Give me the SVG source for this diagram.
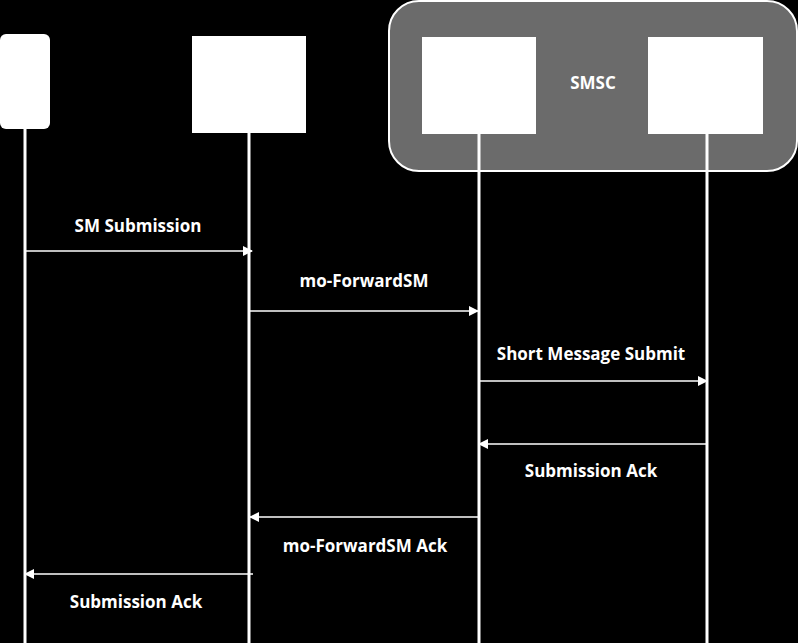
<svg xmlns="http://www.w3.org/2000/svg" width="798" height="643" viewBox="0 0 798 643">
<defs>
<marker id="ah" markerWidth="10" markerHeight="10" refX="9" refY="5" orient="auto" markerUnits="userSpaceOnUse"><path d="M0,0 L10,5 L0,10 z" fill="#fff"/></marker>
<style>
.box{fill:#fff}
.life{stroke:#fff;stroke-width:3}
.msg{stroke:#fff;stroke-width:1.3;fill:none;marker-end:url(#ah)}
.lbl{fill:#fff;font-family:"Open Sans","Liberation Sans",sans-serif;font-weight:bold;font-size:17px;text-anchor:middle}
</style>
</defs>
<rect width="798" height="643" fill="#000"/>
<g id="smsc"><rect x="389" y="1" width="408" height="170" rx="30" fill="#6b6b6b" stroke="#fff" stroke-width="2"/><text class="lbl" x="593" y="89">SMSC</text></g>
<g id="lifelines">
<line class="life" x1="25" y1="129" x2="25" y2="643"/>
<line class="life" x1="249" y1="133" x2="249" y2="643"/>
<line class="life" x1="479" y1="134" x2="479" y2="643"/>
<line class="life" x1="707" y1="134" x2="707" y2="643"/>
</g>
<g id="n1"><rect class="box" x="0" y="34" width="50" height="95" rx="6"/></g>
<g id="n2"><rect class="box" x="192" y="36" width="114" height="97"/></g>
<g id="n3"><rect class="box" x="422" y="37" width="114" height="97"/></g>
<g id="n4"><rect class="box" x="648" y="37" width="115" height="97"/></g>
<g id="connectors">
<line class="msg" x1="25" y1="251" x2="252" y2="251"/>
<line class="msg" x1="249" y1="311" x2="478" y2="311"/>
<line class="msg" x1="479" y1="381" x2="707" y2="381"/>
<line class="msg" x1="707" y1="444" x2="479" y2="444"/>
<line class="msg" x1="479" y1="517" x2="250" y2="517"/>
<line class="msg" x1="253" y1="574" x2="25" y2="574"/>
<text class="lbl" x="138" y="232">SM Submission</text>
<text class="lbl" x="364" y="287">mo-ForwardSM</text>
<text class="lbl" x="591" y="360">Short Message Submit</text>
<text class="lbl" x="591" y="477">Submission Ack</text>
<text class="lbl" x="365" y="552">mo-ForwardSM Ack</text>
<text class="lbl" x="136" y="608">Submission Ack</text>
</g>
</svg>
